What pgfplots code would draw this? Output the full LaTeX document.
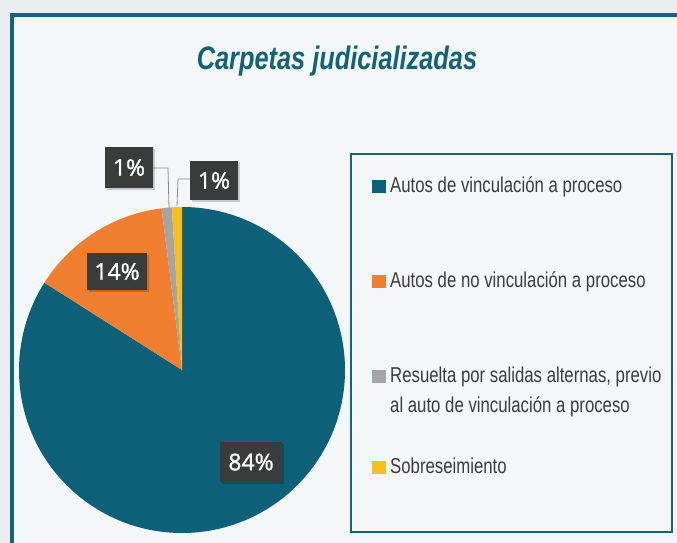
\documentclass[border=0pt]{standalone}
\usepackage{pgfplots}
\pgfplotsset{compat=1.18}
\usepackage{pgfplotstable}
\usepackage{fontspec}
\setmainfont{Liberation Sans}
\newfontfamily\titlefont[FakeStretch=0.78]{Liberation Sans}
\newfontfamily\legfont[FakeStretch=0.78]{Liberation Sans}
\newfontfamily\lblfont[FakeBold=1.3]{Open Sans}
\definecolor{cblue}{HTML}{0C6078}
\definecolor{corange}{HTML}{F08030}
\definecolor{cgray}{HTML}{A5A5A5}
\definecolor{cyellow}{HTML}{F7BE1E}
\definecolor{lblbg}{HTML}{3A3C3C}
\definecolor{ctitle}{HTML}{136375}
\definecolor{cframe}{HTML}{13667A}
\definecolor{legtext}{HTML}{3C3C3C}
\definecolor{bgout}{HTML}{E9EEEE}
\definecolor{bgin}{HTML}{F4F7F7}
\definecolor{leader}{HTML}{8A8A8A}

\pgfplotstableread{
value
84
14
1
1
}\piedata

\begin{document}
\begin{tikzpicture}
\pgfplotstablegetelem{0}{value}\of\piedata \let\vA\pgfplotsretval
\pgfplotstablegetelem{1}{value}\of\piedata \let\vB\pgfplotsretval
\pgfplotstablegetelem{2}{value}\of\piedata \let\vC\pgfplotsretval
\pgfplotstablegetelem{3}{value}\of\piedata \let\vD\pgfplotsretval
\pgfmathsetmacro\aA{90}
\pgfmathsetmacro\aB{\aA-3.6*\vA}
\pgfmathsetmacro\aC{\aB-3.6*\vB}
\pgfmathsetmacro\aD{\aC-3.6*\vC}
\pgfmathsetmacro\aE{\aD-3.6*\vD}
\begin{axis}[at={(0,0)}, anchor=south west, width=677pt, height=543pt,
  scale only axis, xmin=0, xmax=677, ymin=0, ymax=543, hide axis]
% background and frame
\fill[bgout] (axis cs:0,0) rectangle (axis cs:677,543);
\fill[bgin] (axis cs:12,0) rectangle (axis cs:677,528);
\draw[cframe, line width=4pt] (axis cs:12,0) -- (axis cs:12,528) -- (axis cs:677,528);
% title
\node[anchor=base, text=ctitle, font=\titlefont\bfseries\itshape\fontsize{32.5}{38}\selectfont]
  at (axis cs:337,473) {Carpetas judicializadas};
% pie slices
\fill[cblue] (axis cs:182,173) -- ++(\aA:163pt) arc[start angle=\aA, end angle=\aB, radius=163pt] -- cycle;
\fill[corange] (axis cs:182,173) -- ++(\aB:163pt) arc[start angle=\aB, end angle=\aC, radius=163pt] -- cycle;
\fill[cgray] (axis cs:182,173) -- ++(\aC:163pt) arc[start angle=\aC, end angle=\aD, radius=163pt] -- cycle;
\fill[cyellow] (axis cs:182,173) -- ++(\aD:163pt) arc[start angle=\aD, end angle=\aE, radius=163pt] -- cycle;
% leader lines
\draw[leader, line width=0.8pt] (axis cs:153,375) -- (axis cs:168,375) -- (axis cs:169,335);
\draw[leader, line width=0.8pt] (axis cs:190,364) -- (axis cs:178,364) -- (axis cs:177,337);
% value labels
\tikzset{lbl/.style={fill=lblbg, text=white, inner sep=0pt, font=\lblfont\fontsize{23}{27}\selectfont}}
\tikzset{shd/.style={fill=black, opacity=0.18, inner sep=0pt}}
\node[shd, minimum width=62pt, minimum height=40pt] at (axis cs:253,79) {};
\node[lbl, minimum width=62pt, minimum height=40pt] at (axis cs:251,81) {84\%};
\node[shd, minimum width=60pt, minimum height=37pt] at (axis cs:119,269.5) {};
\node[lbl, minimum width=60pt, minimum height=37pt] at (axis cs:117,271.5) {14\%};
\node[shd, minimum width=48pt, minimum height=41pt] at (axis cs:131,373.5) {};
\node[lbl, minimum width=48pt, minimum height=41pt] at (axis cs:129,375.5) {1\%};
\node[shd, minimum width=48pt, minimum height=39pt] at (axis cs:216,360.5) {};
\node[lbl, minimum width=48pt, minimum height=39pt] at (axis cs:214,362.5) {1\%};
% legend box
\draw[cframe, line width=1.5pt] (axis cs:351,11) rectangle (axis cs:672,389);
\tikzset{leg/.style={anchor=base west, text=legtext, inner sep=0pt, font=\legfont\fontsize{21.5}{25}\selectfont}}
\fill[cblue] (axis cs:372,350) rectangle (axis cs:386,363);
\node[leg] at (axis cs:390,350) {Autos de vinculación a proceso};
\fill[corange] (axis cs:372,255) rectangle (axis cs:386,268);
\node[leg] at (axis cs:390,255) {Autos de no vinculación a proceso};
\fill[cgray] (axis cs:372,160) rectangle (axis cs:386,173);
\node[leg] at (axis cs:390,160) {Resuelta por salidas alternas, previo};
\node[leg] at (axis cs:390,130) {al auto de vinculación a proceso};
\fill[cyellow] (axis cs:372,69) rectangle (axis cs:386,82);
\node[leg] at (axis cs:390,69) {Sobreseimiento};
\end{axis}
\pgfresetboundingbox
\useasboundingbox (0,0) rectangle (677pt,543pt);
\end{tikzpicture}
\end{document}
